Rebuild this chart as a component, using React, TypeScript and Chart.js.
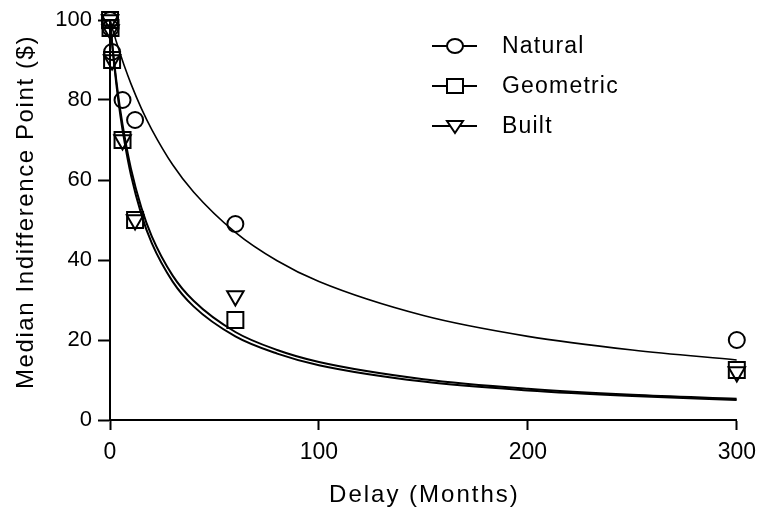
import React, { useEffect, useRef } from 'react';
import { Chart, registerables } from 'chart.js';

Chart.register(...registerables);

// Observed medians (delay in months)
const DELAYS = [0.03, 0.25, 1, 6, 12, 60, 300];
const NATURAL = [100, 98, 92, 80, 75, 49, 20];
const GEOMETRIC = [100, 98, 90, 70, 50, 25, 12.5];
const BUILT = [100, 97.5, 90, 70, 50, 31, 12];

// Fitted curves
const CURVE_X = [0, 1, 2, 3, 5, 7, 10, 15, 20, 30, 40, 60, 80, 100, 150, 200, 250, 300];
const NATURAL_FIT = [100, 98.1, 96.4, 94.6, 91.4, 88.3, 84.1, 77.9, 72.6, 63.8, 57.0, 46.9, 39.8, 34.6, 26.1, 20.9, 17.5, 15.0];
const GEOMETRIC_FIT = [100, 94.1, 88.8, 84.1, 76.0, 69.4, 61.3, 51.4, 44.2, 34.6, 28.4, 20.9, 16.6, 13.7, 9.6, 7.4, 6.0, 5.0];
const BUILT_FIT = [100, 94.4, 89.4, 85.0, 77.2, 70.8, 62.9, 53.1, 45.9, 36.1, 29.8, 22.0, 17.5, 14.5, 10.2, 7.8, 6.3, 5.3];

const SERIES_LABELS = ['Natural', 'Geometric', 'Built'];
const X_TICKS = [0, 100, 200, 300];
const Y_TICKS = [0, 20, 40, 60, 80, 100];
const X_TITLE = 'Delay (Months)';
const Y_TITLE = 'Median Indifference Point ($)';

const FONT = 'Arial, "Liberation Sans", sans-serif';

const toPts = (xs: number[], ys: number[]) => xs.map((x, i) => ({ x, y: ys[i] }));

const MARKERS = [
  { style: 'circle', radius: 8, rotation: 0 },
  { style: 'rect', radius: 11.3, rotation: 0 },
  { style: 'triangle', radius: 9.5, rotation: 180 },
];

function drawMarker(ctx: CanvasRenderingContext2D, kind: number, x: number, y: number) {
  ctx.beginPath();
  if (kind === 0) {
    ctx.ellipse(x, y, 8, 7, 0, 0, Math.PI * 2);
  } else if (kind === 1) {
    ctx.rect(x - 8, y - 7, 16, 14);
  } else {
    ctx.moveTo(x - 8, y - 5);
    ctx.lineTo(x + 8, y - 5);
    ctx.lineTo(x, y + 7);
    ctx.closePath();
  }
  ctx.fillStyle = '#fff';
  ctx.fill();
  ctx.stroke();
}

const overlay = {
  id: 'overlay',
  afterDraw(chart: any) {
    const ctx: CanvasRenderingContext2D = chart.ctx;
    const ca = chart.chartArea;
    ctx.save();
    ctx.fillStyle = '#000';
    ctx.strokeStyle = '#000';
    ctx.textAlign = 'center';
    ctx.textBaseline = 'middle';
    ctx.font = `24px ${FONT}`;
    (ctx as any).letterSpacing = '2px';
    ctx.fillText(X_TITLE, (ca.left + ca.right) / 2 + 1, 495);
    ctx.save();
    ctx.translate(26, 212);
    ctx.rotate(-Math.PI / 2);
    (ctx as any).letterSpacing = '1.6px';
    ctx.fillText(Y_TITLE, 0, 0);
    ctx.restore();

    // legend
    ctx.font = `23px ${FONT}`;
    (ctx as any).letterSpacing = '1.2px';
    ctx.textAlign = 'left';
    const rowsY = [46, 86, 126];
    SERIES_LABELS.forEach((lab, i) => {
      const y = rowsY[i];
      ctx.lineWidth = 2;
      ctx.beginPath();
      ctx.moveTo(432, y);
      ctx.lineTo(477, y);
      ctx.stroke();
      drawMarker(ctx, i, 455, y);
      ctx.fillStyle = '#000';
      ctx.fillText(lab, 502, y + 1);
    });
    ctx.restore();
  },
};

export default function App() {
  const ref = useRef<HTMLCanvasElement | null>(null);

  useEffect(() => {
    if (!ref.current) return;
    const pointSets = [NATURAL, GEOMETRIC, BUILT];
    const fits = [NATURAL_FIT, GEOMETRIC_FIT, BUILT_FIT];
    const datasets: any[] = [];
    fits.forEach((f, i) => {
      datasets.push({
        label: SERIES_LABELS[i] + ' fit',
        data: toPts(CURVE_X, f),
        showLine: true,
        borderColor: '#000',
        borderWidth: i === 0 ? 1.6 : 2,
        pointRadius: 0,
        cubicInterpolationMode: 'monotone',
        fill: false,
        order: 2,
      });
    });
    pointSets.forEach((p, i) => {
      datasets.push({
        label: SERIES_LABELS[i],
        data: toPts(DELAYS, p),
        showLine: false,
        pointStyle: MARKERS[i].style,
        pointRadius: MARKERS[i].radius,
        pointRotation: MARKERS[i].rotation,
        pointBorderWidth: 2,
        pointBorderColor: '#000',
        pointBackgroundColor: 'rgba(0,0,0,0)',
        borderColor: '#000',
        backgroundColor: 'rgba(0,0,0,0)',
        clip: false,
        order: 1,
      });
    });

    const chart = new Chart(ref.current, {
      type: 'scatter',
      data: { datasets },
      options: {
        animation: false,
        responsive: false,
        maintainAspectRatio: false,
        layout: { padding: { top: 20, right: 28, bottom: 0, left: 0 } },
        plugins: { legend: { display: false }, tooltip: { enabled: false } },
        scales: {
          x: {
            type: 'linear',
            min: 0,
            max: 300,
            afterFit: (s: any) => { s.height = 96; },
            afterBuildTicks: (s: any) => { s.ticks = X_TICKS.map((v) => ({ value: v })); },
            border: { display: true, color: '#000', width: 2 },
            grid: { drawOnChartArea: false, drawTicks: true, tickLength: 10, tickWidth: 2, tickColor: '#000' },
            ticks: { color: '#000', font: { family: FONT, size: 23 }, padding: 9, maxRotation: 0 },
          },
          y: {
            type: 'linear',
            min: 0,
            max: 100,
            afterFit: (s: any) => { s.width = 110; },
            afterBuildTicks: (s: any) => { s.ticks = Y_TICKS.map((v) => ({ value: v })); },
            border: { display: true, color: '#000', width: 2 },
            grid: { drawOnChartArea: false, drawTicks: true, tickLength: 12, tickWidth: 2, tickColor: '#000' },
            ticks: { color: '#000', font: { family: FONT, size: 22 }, padding: 6 },
          },
        },
      },
      plugins: [overlay],
    });
    return () => chart.destroy();
  }, []);

  return (
    <div style={{ position: 'fixed', left: 0, top: 0, width: 765, height: 516, background: '#fff' }}>
      <canvas ref={ref} width={765} height={516} style={{ width: 765, height: 516, display: 'block' }} />
    </div>
  );
}
